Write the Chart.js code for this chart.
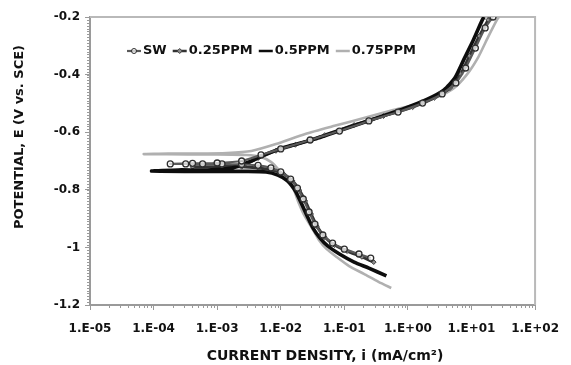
<!DOCTYPE html>
<html>
<head>
<meta charset="utf-8">
<script src="https://cdn.jsdelivr.net/npm/chart.js@4/dist/chart.umd.min.js"></script>
<style>
    html, body { margin: 0; padding: 0; background: #fff; }
</style>
</head>
<body>
<canvas id="chart" width="571" height="365"></canvas>
<script>
// ---- data (current in mA/cm2, potential in V vs SCE) ----
const seriesNames = ["SW", "0.25PPM", "0.5PPM", "0.75PPM"];

const swCurrent = [0.26, 0.170, 0.1, 0.0653, 0.0459, 0.0345, 0.0279, 0.0226, 0.0183, 0.0143, 0.010, 7.0e-3, 4.4e-3, 2.43e-3, 1.19e-3, 5.9e-4, 3.2e-4, 1.83e-4,
    4.1e-4, 1.0e-3, 2.43e-3, 4.9e-3, 0.010, 0.029, 0.0838, 0.243, 0.70, 1.70, 3.45, 5.67, 8.09, 11.5, 16.4, 21.8];
const swPotential = [-1.037, -1.023, -1.006, -0.985, -0.957, -0.919, -0.877, -0.832, -0.794, -0.763, -0.738, -0.724, -0.715, -0.712, -0.710, -0.710, -0.710, -0.710,
    -0.708, -0.707, -0.700, -0.679, -0.658, -0.627, -0.596, -0.561, -0.530, -0.499, -0.467, -0.429, -0.377, -0.308, -0.238, -0.200];

const ppm025Current = [0.29, 0.189, 0.111, 0.070, 0.0492, 0.037, 0.030, 0.0243, 0.0196, 0.0153, 0.0111, 7.3e-3, 4.4e-3, 2.43e-3, 1.19e-3, 4.1e-4,
    1.19e-3, 2.7e-3, 4.4e-3, 8.4e-3, 0.017, 0.0492, 0.1426, 0.412, 1.19, 2.60, 4.59, 6.77, 9.31, 13.3, 18.3, 19.6];
const ppm025Potential = [-1.051, -1.033, -1.013, -0.992, -0.964, -0.926, -0.884, -0.839, -0.801, -0.769, -0.745, -0.731, -0.724, -0.720, -0.720, -0.720,
    -0.719, -0.712, -0.690, -0.665, -0.644, -0.610, -0.575, -0.544, -0.513, -0.481, -0.447, -0.398, -0.335, -0.266, -0.210, -0.200];

const ppm05Current = [0.459, 0.243, 0.1426, 0.0838, 0.0547, 0.0412, 0.0322, 0.026, 0.021, 0.017, 0.0128, 9.0e-3, 5.9e-3, 2.9e-3, 1.0e-3, 3.45e-4, 9.3e-5,
    2.43e-4, 7.0e-4, 1.7e-3, 3.45e-3, 5.9e-3, 0.0119, 0.0345, 0.1, 0.29, 0.838, 2.03, 3.70, 5.47, 7.53, 10.7, 14.8, 15.8];
const ppm05Potential = [-1.099, -1.072, -1.051, -1.023, -0.995, -0.967, -0.933, -0.891, -0.846, -0.804, -0.769, -0.749, -0.738, -0.736, -0.736, -0.736, -0.735,
    -0.731, -0.731, -0.724, -0.700, -0.676, -0.651, -0.624, -0.589, -0.554, -0.519, -0.485, -0.453, -0.412, -0.349, -0.280, -0.210, -0.200];

const ppm075Current = [0.547, 0.345, 0.203, 0.119, 0.0753, 0.0528, 0.0398, 0.031, 0.0234, 0.0189, 0.0158, 0.0119, 9.3e-3, 7.0e-3, 4.9e-3, 2.9e-3, 1.0e-3, 3.45e-4, 7.0e-5,
    1.7e-4, 4.9e-4, 1.43e-3, 3.45e-3, 8.4e-3, 0.0243, 0.070, 0.203, 0.588, 1.43, 2.90, 5.28, 8.38, 12.8, 18.3, 25.1, 27.0];
const ppm075Potential = [-1.141, -1.120, -1.092, -1.065, -1.033, -1.006, -0.974, -0.933, -0.888, -0.842, -0.797, -0.763, -0.731, -0.703, -0.686, -0.679, -0.677, -0.677, -0.676,
    -0.674, -0.674, -0.672, -0.665, -0.641, -0.606, -0.578, -0.551, -0.523, -0.502, -0.478, -0.447, -0.401, -0.339, -0.269, -0.210, -0.200];

const xTickValues = [1e-5, 1e-4, 1e-3, 1e-2, 1e-1, 1e0, 1e1, 1e2];
const xTickLabels = ["1.E-05", "1.E-04", "1.E-03", "1.E-02", "1.E-01", "1.E+00", "1.E+01", "1.E+02"];
const yTickLabels = ["-1.2", "-1", "-0.8", "-0.6", "-0.4", "-0.2"];

const xTitle = "CURRENT DENSITY, i (mA/cm\u00B2)";
const yTitle = "POTENTIAL, E (V vs. SCE)";

function toPoints(xs, ys) {
    return xs.map((x, i) => ({ x: x, y: ys[i] }));
}

const FONT = "'DejaVu Sans', sans-serif";

// frame, minor ticks, legend and axis titles
const decorPlugin = {
    id: "decor",
    beforeDatasetsDraw(chart) {
        const ctx = chart.ctx;
        const a = chart.chartArea;
        const xs = chart.scales.x;
        const ys = chart.scales.y;
        ctx.save();
        ctx.strokeStyle = "#b9b9b9";
        ctx.lineWidth = 2;
        ctx.beginPath();
        ctx.moveTo(a.left, a.top);
        ctx.lineTo(a.right, a.top);
        ctx.lineTo(a.right, a.bottom);
        ctx.stroke();

        // minor ticks
        ctx.strokeStyle = "#9a9a9a";
        ctx.lineWidth = 1;
        ctx.beginPath();
        for (let e = -5; e < 2; e++) {
            for (let k = 2; k <= 9; k++) {
                const px = Math.round(xs.getPixelForValue(k * Math.pow(10, e))) + 0.5;
                ctx.moveTo(px, a.bottom);
                ctx.lineTo(px, a.bottom + 3);
            }
        }
        for (let n = 0; n <= 100; n++) {
            const py = Math.round(ys.getPixelForValue(-1.2 + n * 0.01)) + 0.5;
            ctx.moveTo(a.left - 3, py);
            ctx.lineTo(a.left, py);
        }
        ctx.stroke();
        ctx.restore();
    },
    afterDraw(chart) {
        const ctx = chart.ctx;
        const a = chart.chartArea;
        ctx.save();

        // legend
        ctx.font = "bold 13px " + FONT;
        ctx.textBaseline = "middle";
        ctx.fillStyle = "#111";
        let x = a.left + 37;
        const y = a.top + 34;
        chart.data.datasets.forEach(ds => {
            ctx.strokeStyle = ds.borderColor;
            ctx.lineWidth = Math.min(ds.borderWidth, 2.5);
            ctx.beginPath();
            ctx.moveTo(x, y);
            ctx.lineTo(x + 14, y);
            ctx.stroke();
            if (ds.pointRadius > 0) {
                ctx.fillStyle = ds.pointBackgroundColor;
                ctx.strokeStyle = ds.pointBorderColor;
                ctx.lineWidth = 1;
                ctx.beginPath();
                if (ds.pointStyle === "rectRot") {
                    ctx.moveTo(x + 7, y - 2.5);
                    ctx.lineTo(x + 9.5, y);
                    ctx.lineTo(x + 7, y + 2.5);
                    ctx.lineTo(x + 4.5, y);
                    ctx.closePath();
                } else {
                    ctx.arc(x + 7, y, 2.5, 0, Math.PI * 2);
                }
                ctx.fill();
                ctx.stroke();
            }
            ctx.fillStyle = "#111";
            ctx.textAlign = "left";
            ctx.fillText(ds.label, x + 16, y);
            x += 16 + ctx.measureText(ds.label).width + 6;
        });

        // axis titles
        ctx.fillStyle = "#111";
        ctx.textAlign = "center";
        ctx.font = "bold 14px " + FONT;
        ctx.fillText(xTitle, 325, 356);
        ctx.save();
        ctx.translate(20, 137);
        ctx.rotate(-Math.PI / 2);
        ctx.font = "bold 13px " + FONT;
        ctx.fillText(yTitle, 0, 0);
        ctx.restore();

        ctx.restore();
    }
};

const ctx = document.getElementById("chart");

new Chart(ctx, {
    type: "scatter",
    data: {
        datasets: [
            {
                label: seriesNames[0],
                data: toPoints(swCurrent, swPotential),
                showLine: true,
                borderColor: "#5a5a5a",
                borderWidth: 2.2,
                pointStyle: "circle",
                pointRadius: 3,
                pointBorderWidth: 1.3,
                pointBorderColor: "#2e2e2e",
                pointBackgroundColor: "rgba(255,255,255,0.7)",
                tension: 0.2,
                order: 1
            },
            {
                label: seriesNames[1],
                data: toPoints(ppm025Current, ppm025Potential),
                showLine: true,
                borderColor: "#333333",
                borderWidth: 3,
                pointStyle: "rectRot",
                pointRadius: 2.4,
                pointBorderWidth: 1,
                pointBorderColor: "#404040",
                pointBackgroundColor: "#8c8c8c",
                tension: 0.2,
                order: 3
            },
            {
                label: seriesNames[2],
                data: toPoints(ppm05Current, ppm05Potential),
                showLine: true,
                borderColor: "#0d0d0d",
                borderWidth: 3.6,
                pointRadius: 0,
                tension: 0.2,
                order: 2
            },
            {
                label: seriesNames[3],
                data: toPoints(ppm075Current, ppm075Potential),
                showLine: true,
                borderColor: "#b0b0b0",
                borderWidth: 2.6,
                pointRadius: 0,
                tension: 0.2,
                order: 4
            }
        ]
    },
    options: {
        responsive: false,
        animation: false,
        layout: { padding: { left: 0, top: 17, right: 26, bottom: 0 } },
        plugins: {
            legend: { display: false },
            tooltip: { enabled: false }
        },
        scales: {
            x: {
                type: "logarithmic",
                min: 1e-5,
                max: 1e2,
                afterBuildTicks: scale => {
                    scale.ticks = xTickValues.map(v => ({ value: v }));
                },
                afterFit: scale => { scale.height = 60; },
                ticks: {
                    autoSkip: false,
                    maxRotation: 0,
                    padding: 12,
                    color: "#111",
                    font: { family: FONT, size: 12, weight: "bold" },
                    callback: v => xTickLabels[Math.round(Math.log10(v)) + 5]
                },
                grid: { drawOnChartArea: false, tickLength: 5, color: "#9a9a9a" },
                border: { color: "#9a9a9a", width: 2 }
            },
            y: {
                min: -1.2,
                max: -0.2,
                ticks: {
                    stepSize: 0.2,
                    padding: 5,
                    color: "#111",
                    font: { family: FONT, size: 12, weight: "bold" },
                    callback: v => yTickLabels[Math.round((v + 1.2) / 0.2)]
                },
                afterFit: scale => { scale.width = 90; },
                grid: { drawOnChartArea: false, tickLength: 5, color: "#9a9a9a" },
                border: { color: "#9a9a9a", width: 2 }
            }
        }
    },
    plugins: [decorPlugin]
});
</script>
</body>
</html>
